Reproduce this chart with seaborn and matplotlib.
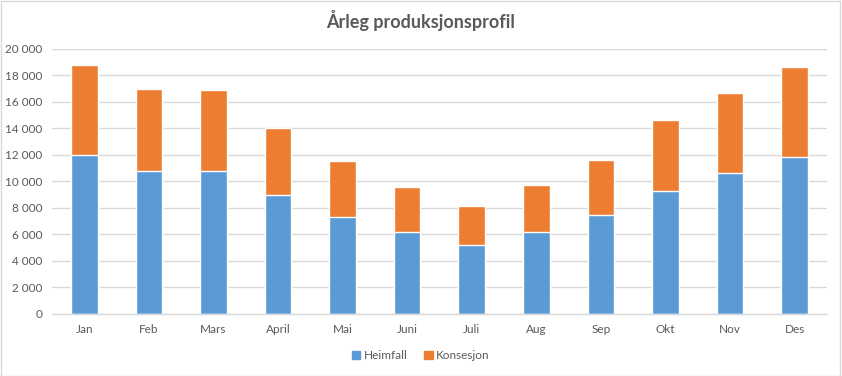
import matplotlib
matplotlib.use("Agg")
import matplotlib.pyplot as plt
import seaborn as sns
import pandas as pd
from matplotlib.ticker import FuncFormatter, MultipleLocator
from matplotlib.patches import Patch

months = ["Jan", "Feb", "Mars", "April", "Mai", "Juni", "Juli", "Aug", "Sep", "Okt", "Nov", "Des"]
heimfall = [12000, 10800, 10750, 8950, 7350, 6150, 5200, 6150, 7450, 9300, 10600, 11850]
konsesjon = [6800, 6200, 6150, 5050, 4200, 3450, 2950, 3550, 4200, 5300, 6100, 6750]

df = pd.DataFrame({"Måned": months, "Heimfall": heimfall, "Konsesjon": konsesjon})
df["Total"] = df["Heimfall"] + df["Konsesjon"]

sns.set_theme(style="white")
plt.rcParams["font.family"] = ["Lato", "DejaVu Sans"]

blue = "#5B9BD5"
orange = "#ED7D31"
txt = "#595959"
grid = "#D9D9D9"

fig = plt.figure(figsize=(8.42, 3.76), dpi=100)
ax = fig.add_axes([0.0618, 0.165, 0.9202, 0.705])

sns.barplot(data=df, x="Måned", y="Total", color=orange, width=0.41, ax=ax, saturation=1)
sns.barplot(data=df, x="Måned", y="Heimfall", color=blue, width=0.41, ax=ax, saturation=1)

ax.set_ylim(0, 20000)
ax.set_xlim(-0.5, 11.5)
ax.yaxis.set_major_locator(MultipleLocator(2000))
ax.yaxis.set_major_formatter(FuncFormatter(lambda v, p: f"{int(v):,}".replace(",", " ")))
ax.grid(axis="y", color=grid, linewidth=1)
ax.set_axisbelow(True)
for s in ["top", "right", "left"]:
    ax.spines[s].set_visible(False)
ax.spines["bottom"].set_color(grid)
ax.spines["bottom"].set_linewidth(1)
ax.set_xlabel("")
ax.set_ylabel("")
ax.tick_params(axis="both", length=0, labelsize=8.5, colors=txt, pad=7)

fig.text(0.5, 0.945, "Årleg produksjonsprofil", ha="center", va="center",
         fontsize=13, fontweight="bold", color=txt)

handles = [Patch(color=blue, label="Heimfall"), Patch(color=orange, label="Konsesjon")]
fig.legend(handles=handles, loc="center", bbox_to_anchor=(0.5, 0.055), ncol=2,
           frameon=False, fontsize=8.5, labelcolor=txt, handlelength=0.7, handleheight=0.7,
           handletextpad=0.3, columnspacing=1.4)

border = plt.Rectangle((0.001, 0.001), 0.997, 0.996, transform=fig.transFigure,
                       fill=False, edgecolor=grid, linewidth=1)
fig.patches.append(border)

fig.savefig("out.png", dpi=100)
